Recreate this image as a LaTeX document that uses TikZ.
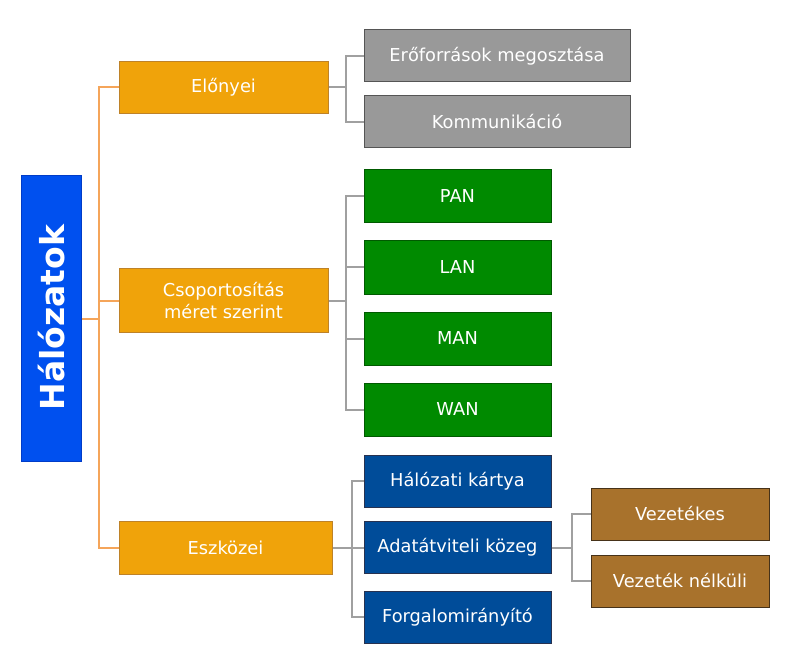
\documentclass[tikz,border=0pt]{standalone}
\usepackage{fontspec}
\setmainfont{DejaVu Sans}
\definecolor{rootblue}{RGB}{0,80,239}
\definecolor{rootborder}{RGB}{0,60,200}
\definecolor{orfill}{RGB}{240,163,10}
\definecolor{orborder}{RGB}{190,130,40}
\definecolor{orline}{RGB}{245,165,90}
\definecolor{gyfill}{RGB}{153,153,153}
\definecolor{gyborder}{RGB}{85,85,85}
\definecolor{gnfill}{RGB}{0,138,0}
\definecolor{gnborder}{RGB}{0,90,0}
\definecolor{dbfill}{RGB}{0,76,153}
\definecolor{dbborder}{RGB}{40,50,80}
\definecolor{brfill}{RGB}{168,114,44}
\definecolor{brborder}{RGB}{70,50,25}
\definecolor{conn}{RGB}{160,160,160}
\tikzset{
  x=1pt, y=-1pt,
  box/.style={draw, line width=1pt, text=white, inner sep=0pt, align=center,
    font=\fontsize{17.8}{22}\selectfont},
  obox/.style={box, fill=orfill, draw=orborder},
  gybox/.style={box, fill=gyfill, draw=gyborder, minimum width=266pt, minimum height=52pt},
  gnbox/.style={box, fill=gnfill, draw=gnborder, minimum width=187pt, minimum height=53pt},
  dbbox/.style={box, fill=dbfill, draw=dbborder, minimum width=187pt, minimum height=52pt},
  brbox/.style={box, fill=brfill, draw=brborder, minimum width=178pt, minimum height=52pt},
  oline/.style={draw=orline, line width=2pt},
  gline/.style={draw=conn, line width=2pt},
}
\begin{document}
\begin{tikzpicture}
\useasboundingbox (0,0) rectangle (790,663);
% root
\node[box, fill=rootblue, draw=rootborder, minimum width=60pt, minimum height=285pt] (root) at (51,318.5) {};
\node[rotate=90, text=white, font=\fontsize{33}{38}\selectfont\bfseries] (roottxt) at (52,317.5) {Hálózatok};
% level 1
\node[obox, minimum width=209pt, minimum height=52pt] (elo) at (223.5,87.5) {Előnyei};
\node[obox, minimum width=209pt, minimum height=63pt] (csop) at (223.5,300.5) {Csoportosítás\\méret szerint};
\node[obox, minimum width=213pt, minimum height=53pt] (esz) at (225.5,547.5) {Eszközei};
% level 2
\node[gybox] (ero) at (497,56) {Erőforrások megosztása};
\node[gybox] (kom) at (497,122) {Kommunikáció};
\node[gnbox] (pan) at (457.5,196.5) {PAN};
\node[gnbox] (lan) at (457.5,267.5) {LAN};
\node[gnbox] (man) at (457.5,338.5) {MAN};
\node[gnbox] (wan) at (457.5,409.5) {WAN};
\node[dbbox] (hk) at (457.5,481) {Hálózati kártya};
\node[dbbox] (ak) at (457.5,547.5) {Adatátviteli közeg};
\node[dbbox] (fo) at (457.5,617) {Forgalomirányító};
% level 3
\node[brbox] (vez) at (680,514) {Vezetékes};
\node[brbox] (vn) at (680,581) {Vezeték nélküli};
% connectors
\coordinate (tr) at (99,318.5);
\draw[oline] (root.east) -- (tr);
\draw[oline] (elo.west) -| (tr) |- (esz.west);
\draw[oline] (csop.west) -- (csop.west -| tr);
\coordinate (j1) at (346,87.5);
\draw[gline] (elo.east) -- (j1);
\draw[gline] (ero.west) -| (j1) |- (kom.west);
\coordinate (j2) at (346,300.5);
\draw[gline] (csop.east) -- (j2);
\draw[gline] (pan.west) -| (j2) |- (wan.west);
\draw[gline] (lan.west) -- (lan.west -| j2);
\draw[gline] (man.west) -- (man.west -| j2);
\coordinate (j3) at (352,547.5);
\draw[gline] (esz.east) -- (ak.west);
\draw[gline] (hk.west) -| (j3) |- (fo.west);
\coordinate (j4) at (572,547.5);
\draw[gline] (ak.east) -- (j4);
\draw[gline] (vez.west) -| (j4) |- (vn.west);
\end{tikzpicture}
\end{document}
